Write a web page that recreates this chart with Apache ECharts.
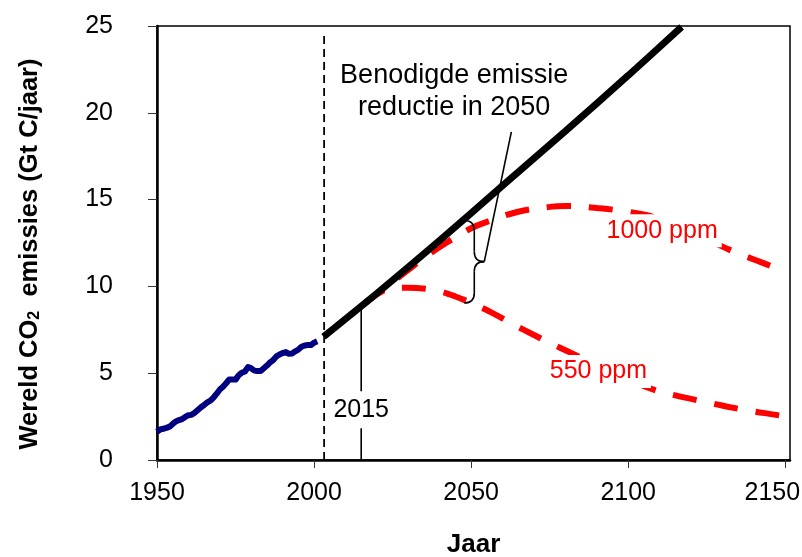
<!DOCTYPE html>
<html>
<head>
<meta charset="utf-8">
<script src="https://cdn.jsdelivr.net/npm/echarts@6/dist/echarts.min.js"></script>
<style>
  html, body { margin: 0; padding: 0; background: #fff; }
  #chart { width: 802px; height: 557px; }
</style>
</head>
<body>
<div id="chart"></div>
<script>
// Axis ranges
const xMin = 1950, xMax = 2151.5, xStep = 50;
const yMin = 0, yMax = 25, yStep = 5;

// Historical world CO2 emissions (Gt C per year)
const histYears = [1950,1951,1952,1953,1954,1955,1956,1957,1958,1959,1960,1961,1962,1963,1964,1965,1966,1967,1968,1969,
  1970,1971,1972,1973,1974,1975,1976,1977,1978,1979,1980,1981,1982,1983,1984,1985,1986,1987,1988,1989,
  1990,1991,1992,1993,1994,1995,1996,1997,1998,1999,2000,2001];
const histValues = [1.63,1.76,1.80,1.85,1.92,2.08,2.22,2.30,2.36,2.48,2.58,2.60,2.72,2.88,3.04,3.17,3.32,3.42,3.60,3.82,
  4.06,4.22,4.42,4.64,4.64,4.63,4.88,5.03,5.10,5.36,5.28,5.15,5.12,5.12,5.28,5.44,5.62,5.76,5.97,6.08,
  6.16,6.22,6.12,6.14,6.26,6.36,6.52,6.60,6.62,6.62,6.76,6.84];

// Business-as-usual projection
const bauYears  = [2003, 2020, 2040, 2060, 2080, 2100, 2117];
const bauValues = [7.1, 9.6, 12.65, 15.8, 18.95, 22.15, 24.95];

// Stabilisation pathway, 1000 ppm
const s1000Years  = [2016, 2020, 2025, 2030, 2035, 2042, 2050, 2055, 2065, 2075, 2080, 2090, 2100, 2106, 2113, 2120, 2127, 2133, 2140, 2145, 2150];
const s1000Values = [9.0, 9.55, 10.25, 10.95, 11.65, 12.5, 13.35, 13.72, 14.3, 14.58, 14.63, 14.52, 14.3, 14.1, 13.7, 13.15, 12.55, 12.05, 11.55, 11.2, 10.8];

// Stabilisation pathway, 550 ppm
const s550Years  = [2016, 2020, 2024, 2030, 2036, 2040, 2045, 2050, 2057, 2063, 2070, 2075, 2081, 2090, 2100, 2109, 2115, 2120, 2127, 2133, 2140, 2147, 2150];
const s550Values = [9.0, 9.55, 9.85, 9.92, 9.85, 9.72, 9.42, 9.05, 8.45, 7.85, 7.2, 6.75, 6.24, 5.45, 4.62, 4.0, 3.72, 3.52, 3.25, 3.02, 2.8, 2.6, 2.5];

// Annotations
const nowYear = 2003.2, nowTop = 24.5;
const markYear = 2015, markTop = 9.0, markLabelAt = 2.9;
const braceYear = 2051, braceLow = 9.05, braceHigh = 13.8;
const pointerEnd = [2062.8, 18.9];
const noteLines = ['Benodigde emissie', 'reductie in 2050'];
const notePos = [2044.6, 21.2];
const label1000 = '1000 ppm', label1000Pos = [2110.8, 13.2];
const label550 = '550 ppm', label550Pos = [2090.5, 5.1];

const FONT = '"Liberation Sans", Arial, Helvetica, sans-serif';
const zip = (xs, ys) => xs.map((x, i) => [x, ys[i]]);

function renderBrace(params, api) {
  const x = api.value(0), lo = api.value(1), hi = api.value(2);
  const top = api.coord([x, hi]), bot = api.coord([x, lo]);
  const end = api.coord([api.value(3), api.value(4)]);
  const sx = top[0], ty = top[1], by = bot[1], my = (ty + by) / 2;
  const w = 10, r = 10;
  const style = { stroke: '#000', lineWidth: 1.6, fill: null };
  return {
    type: 'group',
    children: [
      { type: 'bezierCurve', shape: { x1: sx - w, y1: ty, cpx1: sx, cpy1: ty, x2: sx, y2: ty + r }, style },
      { type: 'line', shape: { x1: sx, y1: ty + r, x2: sx, y2: my - r }, style },
      { type: 'bezierCurve', shape: { x1: sx, y1: my - r, cpx1: sx, cpy1: my, x2: sx + w, y2: my }, style },
      { type: 'bezierCurve', shape: { x1: sx + w, y1: my, cpx1: sx, cpy1: my, x2: sx, y2: my + r }, style },
      { type: 'line', shape: { x1: sx, y1: my + r, x2: sx, y2: by - r }, style },
      { type: 'bezierCurve', shape: { x1: sx, y1: by - r, cpx1: sx, cpy1: by, x2: sx - w, y2: by }, style },
      { type: 'line', shape: { x1: sx + w, y1: my, x2: end[0], y2: end[1] }, style }
    ]
  };
}

// Text placed at a data position, optionally on a white box that hides lines behind it
function textSeries(pos, text, opts) {
  const o = Object.assign({ size: 25, color: '#000', bg: null, pad: 0, lineHeight: null }, opts);
  return {
    type: 'custom', z: 10, silent: true, clip: false,
    encode: { x: 0, y: 1 },
    data: [pos],
    renderItem: (params, api) => {
      const p = api.coord([api.value(0), api.value(1)]);
      return {
        type: 'text', x: p[0], y: p[1],
        style: {
          text: text, fill: o.color,
          font: o.size + 'px ' + FONT,
          lineHeight: o.lineHeight || undefined,
          align: 'center', verticalAlign: 'middle',
          backgroundColor: o.bg || undefined,
          padding: o.pad
        }
      };
    }
  };
}

const chart = echarts.init(document.getElementById('chart'), null, { renderer: 'canvas' });
chart.setOption({
  animation: false,
  backgroundColor: '#fff',
  grid: {
    left: 157, right: 12, top: 26, bottom: 97,
    outerBoundsMode: 'none', containLabel: false,
    show: true, borderColor: '#000', borderWidth: 1.5
  },
  xAxis: {
    type: 'value', min: xMin, max: xMax, interval: xStep,
    name: 'Jaar', nameLocation: 'middle', nameGap: 72,
    nameTextStyle: { fontFamily: FONT, fontSize: 26, fontWeight: 'bold', color: '#000' },
    axisLine: { show: true, onZero: false, lineStyle: { color: '#000', width: 2.5 } },
    axisTick: { show: true, length: 8, lineStyle: { color: '#333', width: 1 } },
    axisLabel: {
      fontFamily: FONT, fontSize: 25, color: '#000', margin: 21, showMaxLabel: false,
      // the last year label sits pulled in from the right edge
      formatter: v => (v >= 2150 ? '{end|' + v + '}' : String(v)),
      rich: { end: { fontFamily: FONT, fontSize: 25, color: '#000', padding: [0, 26, 0, 0] } }
    },
    splitLine: { show: false }
  },
  yAxis: {
    type: 'value', min: yMin, max: yMax, interval: yStep,
    name: 'Wereld CO{s|2}  emissies (Gt C/jaar)', nameLocation: 'middle', nameGap: 114,
    nameTextStyle: {
      fontFamily: FONT, fontSize: 25.5, fontWeight: 'bold', color: '#000',
      padding: [0, 22, 0, 0],
      rich: { s: { fontFamily: FONT, fontSize: 16, fontWeight: 'bold', color: '#000', verticalAlign: 'bottom', padding: [10, 0, 0, 0] } }
    },
    axisLine: { show: true, lineStyle: { color: '#000', width: 2.5 } },
    axisTick: { show: true, length: 9, lineStyle: { color: '#333', width: 1 } },
    axisLabel: { fontFamily: FONT, fontSize: 25, color: '#000', margin: 44 },
    splitLine: { show: false }
  },
  series: [
    {
      name: 'nu', type: 'line', symbol: 'none', z: 1, silent: true,
      data: [[nowYear, 0], [nowYear, nowTop]],
      lineStyle: { color: '#000', width: 1.8, type: [8, 5] }
    },
    {
      name: 'historisch', type: 'line', symbol: 'none', z: 3,
      data: zip(histYears, histValues),
      lineStyle: { color: '#000080', width: 6, join: 'round' }
    },
    {
      name: '1000 ppm', type: 'line', symbol: 'none', smooth: 0.4, z: 2,
      data: zip(s1000Years, s1000Values),
      lineStyle: { color: '#ff0000', width: 6, type: [24, 18], cap: 'butt' }
    },
    {
      name: '550 ppm', type: 'line', symbol: 'none', smooth: 0.4, z: 2,
      data: zip(s550Years, s550Values),
      lineStyle: { color: '#ff0000', width: 6, type: [24, 18], cap: 'butt' }
    },
    {
      name: 'trend', type: 'line', symbol: 'none', smooth: 0.3, z: 4,
      data: zip(bauYears, bauValues),
      lineStyle: { color: '#000', width: 7 }
    },
    {
      name: '2015', type: 'line', symbol: 'none', z: 5, silent: true,
      data: [[markYear, 0], [markYear, markTop]],
      lineStyle: { color: '#000', width: 1.6 }
    },
    {
      name: 'reductie', type: 'custom', z: 6, silent: true,
      renderItem: renderBrace,
      encode: { x: 0, y: [1, 2] },
      data: [[braceYear, braceLow, braceHigh, pointerEnd[0], pointerEnd[1]]]
    },
    textSeries([markYear, markLabelAt], String(markYear), { bg: '#fff', pad: [6, 2] }),
    textSeries(notePos, noteLines.join('\n'), { size: 27, lineHeight: 32 }),
    textSeries(label1000Pos, label1000, { color: '#ff0000', bg: '#fff', pad: [4, 4] }),
    textSeries(label550Pos, label550, { color: '#ff0000', bg: '#fff', pad: [4, 4] })
  ]
});
</script>
</body>
</html>
